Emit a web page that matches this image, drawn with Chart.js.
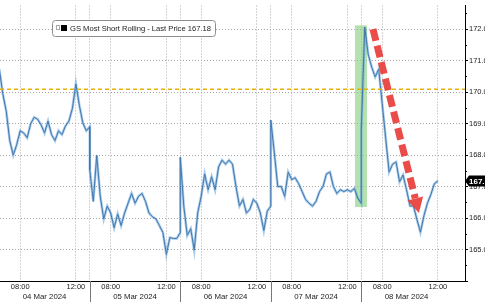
<!DOCTYPE html>
<html>
<head>
<meta charset="utf-8">
<script src="https://cdn.jsdelivr.net/npm/chart.js@4.4.1/dist/chart.umd.min.js"></script>
<style>
  html, body { margin: 0; padding: 0; background: #fff; }
  #chart { display: block; }
</style>
</head>
<body>
<canvas id="chart" width="485" height="302"></canvas>
<script>
// GS Most Short Rolling, 15-minute closes, each session 06:30 -> 13:00
const days = ['04 Mar 2024', '05 Mar 2024', '06 Mar 2024', '07 Mar 2024', '08 Mar 2024'];
const mar04 = [170.73, 169.95, 169.39, 168.46, 168.0, 168.33, 168.77, 168.7, 168.55, 168.99, 169.2, 169.14, 168.96, 168.7,
  169.08, 168.65, 168.46, 168.77, 168.65, 168.92, 169.08, 169.48, 170.26, 169.58, 169.02, 168.77, 168.9];
const mar05 = [167.53, 166.53, 167.99, 166.69, 165.97, 166.38, 166.16, 165.69, 166.13, 165.76, 166.16, 166.47, 166.78, 166.47,
  166.69, 166.78, 166.53, 166.16, 166.04, 165.97, 165.76, 165.54, 164.85, 165.38, 165.35, 165.35, 165.54];
const mar06 = [167.93, 166.38, 165.45, 165.66, 164.98, 166.16, 166.69, 167.4, 166.9, 167.31, 166.9, 167.62, 167.84, 167.71,
  167.84, 167.71, 167.0, 166.38, 166.59, 166.16, 166.28, 166.59, 166.47, 166.16, 165.6, 166.22, 166.38];
const mar07 = [169.11, 168.09, 167.0, 167.0, 166.69, 167.46, 167.22, 167.28, 167.09, 166.84, 166.59, 166.47, 166.38, 166.53,
  166.84, 167.0, 167.4, 167.46, 167.0, 166.78, 166.9, 166.84, 166.9, 166.84, 166.94, 166.63, 166.47];
const mar08 = [168.8, 172.06, 171.19, 170.79, 170.48, 170.73, 169.64, 168.55, 167.46, 167.71, 167.78, 167.15, 167.37, 166.9,
  166.38, 166.38, 165.95, 165.55, 166.07, 166.47, 166.75, 167.09, 167.18];
const sessions = [mar04, mar05, mar06, mar07, mar08];

const lastPrice = 167.18;
const refLevel = 170.09;          // yellow dashed line
const yTicks = [164, 165, 166, 167, 168, 169, 170, 171, 172];
const timeTicks = ['08:00', '12:00'];

// annotations, x in session hours (0 = 04 Mar 06:30, 6.5 h per session)
const highlight = { from: 25.55, to: 26.41, low: 166.35, high: 172.12 };
const arrow = { x0: 26.84, y0: 172.0, x1: 30.14, y1: 166.16 };

const sessionLen = 6.5;
const step = 0.25;

// build the points: one session after another, no overnight gap
const points = [];
sessions.forEach((vals, d) => {
  vals.forEach((v, i) => points.push({ x: d * sessionLen + i * step, y: v }));
});

// x ticks: session boundaries plus 08:00 and 12:00 of each session
const xTicks = [];
const xLabels = {};
for (let d = 0; d < days.length; d++) {
  if (d > 0) { xTicks.push(d * sessionLen); xLabels[d * sessionLen] = ''; }
  xTicks.push(d * sessionLen + 1.5); xLabels[d * sessionLen + 1.5] = timeTicks[0];
  xTicks.push(d * sessionLen + 5.5); xLabels[d * sessionLen + 5.5] = timeTicks[1];
}

const font = 'Liberation Sans, Arial, sans-serif';

const overlays = {
  id: 'overlays',
  beforeDatasetsDraw(chart) {
    const { ctx, scales: { x, y } } = chart;
    const x1 = x.getPixelForValue(highlight.from);
    const x2 = x.getPixelForValue(highlight.to);
    const y1 = y.getPixelForValue(highlight.high);
    const y2 = y.getPixelForValue(highlight.low);
    ctx.save();
    ctx.fillStyle = 'rgba(130, 205, 120, 0.6)';
    ctx.fillRect(x1, y1, x2 - x1, y2 - y1);
    ctx.restore();
  },
  afterDatasetsDraw(chart) {
    const { ctx, chartArea, scales: { x, y } } = chart;
    ctx.save();
    // reference level
    const yy = y.getPixelForValue(refLevel);
    ctx.strokeStyle = '#e6b400';
    ctx.lineWidth = 1.5;
    ctx.setLineDash([4, 3]);
    ctx.beginPath();
    ctx.moveTo(chartArea.left, yy);
    ctx.lineTo(chartArea.right, yy);
    ctx.stroke();

    // red dashed arrow
    const ax0 = x.getPixelForValue(arrow.x0), ay0 = y.getPixelForValue(arrow.y0);
    const ax1 = x.getPixelForValue(arrow.x1), ay1 = y.getPixelForValue(arrow.y1);
    const ang = Math.atan2(ay1 - ay0, ax1 - ax0);
    const headLen = 15, headW = 8;
    const bx = ax1 - headLen * Math.cos(ang), by = ay1 - headLen * Math.sin(ang);
    ctx.strokeStyle = 'rgba(232, 62, 58, 0.92)';
    ctx.fillStyle = 'rgba(232, 62, 58, 0.92)';
    ctx.lineWidth = 7;
    ctx.setLineDash([12, 5]);
    ctx.beginPath();
    ctx.moveTo(ax0, ay0);
    ctx.lineTo(bx, by);
    ctx.stroke();
    ctx.setLineDash([]);
    ctx.beginPath();
    ctx.moveTo(ax1, ay1);
    ctx.lineTo(bx + headW * Math.sin(ang), by - headW * Math.cos(ang));
    ctx.lineTo(bx - headW * Math.sin(ang), by + headW * Math.cos(ang));
    ctx.closePath();
    ctx.fill();
    ctx.restore();
  },
  afterDraw(chart) {
    const { ctx, chartArea, scales: { x, y } } = chart;
    ctx.save();

    // session separators under the axis
    ctx.strokeStyle = '#777';
    ctx.lineWidth = 1;
    for (let d = 1; d < days.length; d++) {
      const px = Math.round(x.getPixelForValue(d * sessionLen)) + 0.5;
      ctx.beginPath();
      ctx.moveTo(px, chartArea.bottom);
      ctx.lineTo(px, chart.height);
      ctx.stroke();
    }

    // date labels, centred in each session
    ctx.fillStyle = '#222';
    ctx.font = '7.8px ' + font;
    ctx.textAlign = 'center';
    ctx.textBaseline = 'middle';
    days.forEach((lbl, d) => {
      ctx.fillText(lbl, x.getPixelForValue(d * sessionLen + sessionLen / 2), chartArea.bottom + 16);
    });

    // minor ticks on the price axis
    ctx.strokeStyle = '#000';
    for (let v = 164.5; v < y.max; v += 1) {
      const py = Math.round(y.getPixelForValue(v)) + 0.5;
      ctx.beginPath();
      ctx.moveTo(chartArea.right, py);
      ctx.lineTo(chartArea.right + 2, py);
      ctx.stroke();
    }

    // legend box
    const lx = 52.5, ly = 20.5, lw = 163, lh = 16;
    ctx.fillStyle = '#fff';
    ctx.strokeStyle = '#8c8c8c';
    ctx.beginPath();
    ctx.roundRect(lx, ly, lw, lh, 3);
    ctx.fill();
    ctx.stroke();
    ctx.strokeStyle = '#aaa';
    ctx.strokeRect(56.5, 25.5, 3, 4);
    ctx.fillStyle = '#000';
    ctx.fillRect(61, 25, 6, 6);
    ctx.fillStyle = '#222';
    ctx.font = '7.6px ' + font;
    ctx.textAlign = 'left';
    ctx.fillText('GS Most Short Rolling - Last Price ' + lastPrice.toFixed(2), 70, ly + lh / 2);

    // last price tag
    const ty = y.getPixelForValue(lastPrice);
    const tx = chartArea.right;
    ctx.fillStyle = '#000';
    ctx.beginPath();
    ctx.moveTo(tx, ty);
    ctx.lineTo(tx + 4, ty - 5.5);
    ctx.lineTo(chart.width + 2, ty - 5.5);
    ctx.lineTo(chart.width + 2, ty + 5.5);
    ctx.lineTo(tx + 4, ty + 5.5);
    ctx.closePath();
    ctx.fill();
    ctx.fillStyle = '#fff';
    ctx.font = 'bold 8px ' + font;
    ctx.fillText(lastPrice.toFixed(2), tx + 4, ty + 0.5);
    ctx.restore();
  }
};

new Chart(document.getElementById('chart'), {
  type: 'line',
  data: {
    datasets: [
      { data: points, borderColor: 'rgba(95, 160, 220, 0.55)', borderWidth: 2.6, pointRadius: 0, tension: 0 },
      { data: points, borderColor: '#23466e', borderWidth: 1, pointRadius: 0, tension: 0 }
    ]
  },
  options: {
    responsive: false,
    animation: false,
    devicePixelRatio: 1,
    layout: { padding: 0 },
    plugins: { legend: { display: false }, tooltip: { enabled: false } },
    scales: {
      x: {
        type: 'linear',
        min: 0.05,
        max: 33.45,
        afterBuildTicks: s => { s.ticks = xTicks.map(v => ({ value: v })); },
        afterFit: s => { s.height = 21; },
        grid: { color: '#a8a8a8', drawTicks: false },
        border: { color: '#000', width: 1, dash: [1, 2] },
        ticks: {
          autoSkip: false, maxRotation: 0, padding: 1.5,
          color: '#222', font: { family: font, size: 7.5 },
          callback: v => xLabels[v]
        }
      },
      y: {
        position: 'right',
        min: 164,
        max: 172.75,
        afterBuildTicks: s => { s.ticks = yTicks.map(v => ({ value: v })); },
        afterFit: s => { s.width = 20; },
        grid: { color: '#a8a8a8', tickLength: 3, tickColor: '#000' },
        border: { color: '#000', width: 1, dash: [1, 2] },
        ticks: {
          padding: 1, color: '#222', font: { family: font, size: 7.5 },
          callback: v => (v === 164 ? '' : v.toFixed(1))
        }
      }
    }
  },
  plugins: [overlays]
});
</script>
</body>
</html>
